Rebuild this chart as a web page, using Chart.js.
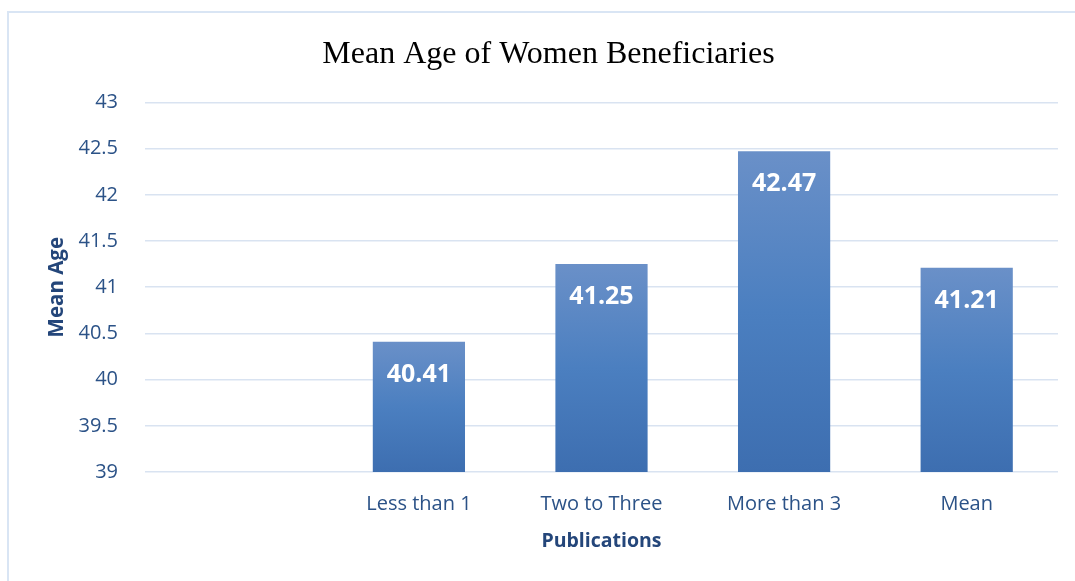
<!DOCTYPE html>
<html>
<head>
<meta charset="utf-8">
<script src="https://cdn.jsdelivr.net/npm/chart.js@4"></script>
<style>
  html, body { margin: 0; padding: 0; background: #fff; }
  #wrap { position: relative; width: 1075px; height: 581px; overflow: hidden; }
  #frame {
    position: absolute; left: 7px; top: 11px; width: 1200px; height: 700px;
    border-left: 2px solid #d9e5f4; border-top: 2px solid #d9e5f4;
  }
  canvas { position: absolute; left: 0; top: 0; }
</style>
</head>
<body>
<div id="wrap">
  <div id="frame"></div>
  <canvas id="chart" width="1075" height="581"></canvas>
</div>
<script>
// categories (first slot is left blank on purpose)
const categories = ["", "Less than 1", "Two to Three", "More than 3", "Mean"];
const meanAges = [null, 40.41, 41.25, 42.47, 41.21];
const yMin = 39;
const yMax = 43;
const yStep = 0.5;

const textBlue = "#2b5287";
const axisTitleBlue = "#24467a";

// light-to-dark vertical fill for each bar
function barFill(context) {
  const chart = context.chart;
  const { chartArea, scales } = chart;
  if (!chartArea) return "#4a7bbf";
  const v = context.raw;
  if (v == null) return "#4a7bbf";
  const top = scales.y.getPixelForValue(v);
  const bottom = scales.y.getPixelForValue(yMin);
  const g = chart.ctx.createLinearGradient(0, top, 0, bottom);
  g.addColorStop(0, "#6a90c8");
  g.addColorStop(0.5, "#4b7fc0");
  g.addColorStop(1, "#3d6eb0");
  return g;
}

// value labels inside the top of each bar
const valueLabels = {
  id: "valueLabels",
  afterDatasetsDraw(chart) {
    const ctx = chart.ctx;
    const meta = chart.getDatasetMeta(0);
    ctx.save();
    ctx.fillStyle = "#ffffff";
    ctx.font = "bold 25px 'Open Sans'";
    ctx.textAlign = "center";
    ctx.textBaseline = "middle";
    meta.data.forEach((bar, i) => {
      const v = meanAges[i];
      if (v == null) return;
      ctx.fillText(v.toFixed(2), bar.x, bar.y + 33);
    });
    ctx.restore();
  }
};

new Chart(document.getElementById("chart"), {
  type: "bar",
  data: {
    labels: categories,
    datasets: [{
      data: meanAges,
      backgroundColor: barFill,
      borderWidth: 0,
      barPercentage: 1,
      categoryPercentage: 0.505
    }]
  },
  options: {
    responsive: false,
    animation: false,
    layout: { padding: { left: 39, right: 17, top: 10, bottom: 0 } },
    plugins: {
      legend: { display: false },
      tooltip: { enabled: false },
      title: {
        display: true,
        text: "Mean Age of Women Beneficiaries",
        color: "#000000",
        font: { family: "'Liberation Serif'", size: 32, weight: "normal" },
        padding: { top: 25, bottom: 29 }
      }
    },
    scales: {
      x: {
        grid: { display: false, drawTicks: false },
        border: { display: false },
        ticks: {
          color: textBlue,
          font: { family: "'Open Sans'", size: 20 },
          padding: 20,
          maxRotation: 0
        },
        title: {
          display: true,
          text: "Publications",
          color: axisTitleBlue,
          font: { family: "'Open Sans'", size: 19.5, weight: "bold" },
          padding: { top: 0, bottom: 28 }
        },
        afterFit(scale) { scale.height = 109; }
      },
      y: {
        min: yMin,
        max: yMax,
        grid: { color: "#d9e3f1", lineWidth: 1.5, drawTicks: false },
        border: { display: false },
        ticks: {
          stepSize: yStep,
          color: textBlue,
          font: { family: "'Open Sans'", size: 20 },
          padding: 27,
          callback: (v) => String(v)
        },
        title: {
          display: true,
          text: "Mean Age",
          color: axisTitleBlue,
          font: { family: "'Open Sans'", size: 20.5, weight: "bold" },
          padding: { top: 6, bottom: 0 }
        },
        afterFit(scale) { scale.width = 106; }
      }
    }
  },
  plugins: [valueLabels]
});
</script>
</body>
</html>
